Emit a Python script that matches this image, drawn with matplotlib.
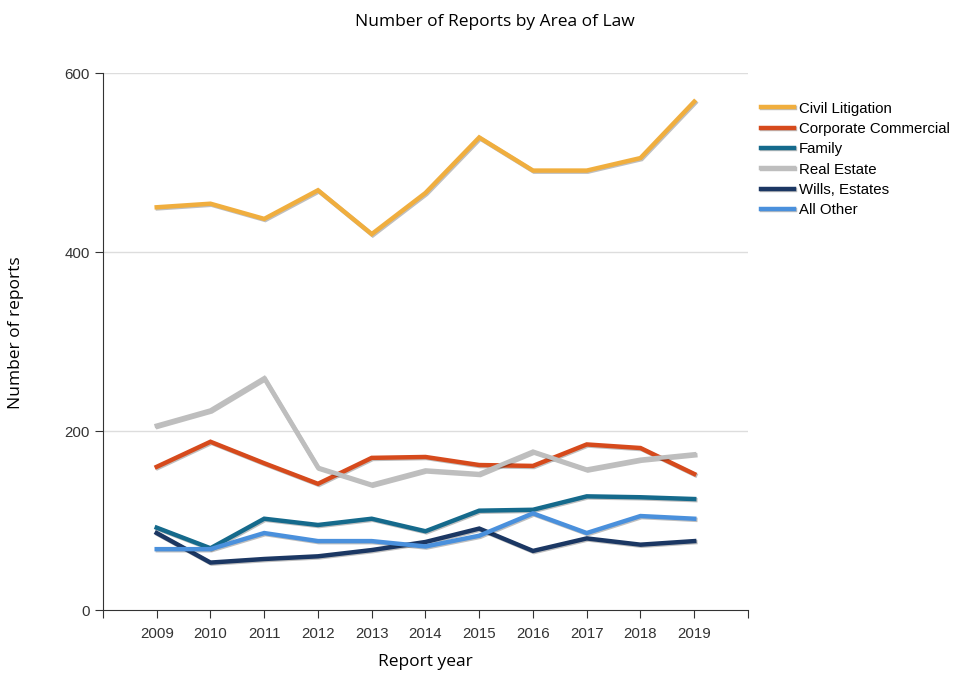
import matplotlib
matplotlib.use("Agg")
import matplotlib.pyplot as plt
import matplotlib.patheffects as pe

# Data
years = [2009, 2010, 2011, 2012, 2013, 2014, 2015, 2016, 2017, 2018, 2019]
civil_litigation = [450, 454, 437, 469, 420, 466, 528, 491, 491, 505, 568]
corporate_commercial = [160, 188, 164, 141, 170, 171, 162, 161, 185, 181, 152]
family = [92, 69, 102, 95, 102, 88, 111, 112, 127, 126, 124]
real_estate = [206, 223, 259, 159, 140, 156, 152, 177, 157, 168, 174]
wills_estates = [86, 53, 57, 60, 67, 76, 91, 66, 80, 73, 77]
all_other = [68, 68, 86, 77, 77, 71, 83, 108, 86, 105, 102]

series_names = ["Civil Litigation", "Corporate Commercial", "Family",
                "Real Estate", "Wills, Estates", "All Other"]
series_values = [civil_litigation, corporate_commercial, family,
                 real_estate, wills_estates, all_other]
series_colors = ["#F0AE3E", "#D64A1C", "#156A8C", "#BEBEBE", "#1B3763", "#4A90DC"]

y_ticks = [0, 200, 400, 600]

fig = plt.figure(figsize=(9.56, 6.73), dpi=100)
ax = fig.add_axes([0.1077, 0.0936, 0.6747, 0.7979])

# slight drop shadow like the original rendering
shadow = [pe.SimpleLineShadow(offset=(0.8, -0.8), alpha=0.25), pe.Normal()]
handles = []
for name, vals, color in zip(series_names, series_values, series_colors):
    (line,) = ax.plot(years, vals, color=color, lw=3.2, label=name,
                      solid_joinstyle="miter", path_effects=shadow, zorder=3)
    handles.append(line)

ax.set_xlim(2008, 2020)
ax.set_ylim(0, 600)
ax.set_xticks(list(range(2008, 2021)))
ax.set_xticklabels([""] + [str(y) for y in years] + [""])
ax.set_yticks(y_ticks)
ax.tick_params(labelsize=10.8, length=6, width=0.8, color="#333333")
for lab in ax.get_xticklabels() + ax.get_yticklabels():
    lab.set_fontfamily("Liberation Sans")
    lab.set_color("#333333")
ax.tick_params(axis="x", pad=6)

for y in y_ticks[1:]:
    ax.axhline(y, color="#DDDDDD", lw=1, zorder=1)

ax.spines["top"].set_visible(False)
ax.spines["right"].set_visible(False)
ax.spines["left"].set_color("#333333")
ax.spines["bottom"].set_color("#333333")

fig.text(0.445, 0.016, "Report year", fontsize=12.5, family="Open Sans",
         ha="center", va="center")
fig.text(0.017, 0.505, "Number of reports", rotation=90, fontsize=12.5,
         family="Open Sans", ha="center", va="center")
fig.text(0.518, 0.968, "Number of Reports by Area of Law", fontsize=12.5,
         family="Open Sans", ha="center", va="center")

fig.legend(handles=handles, labels=series_names, loc="upper left",
           bbox_to_anchor=(0.796, 0.849), frameon=False,
           prop={"family": "Liberation Sans", "size": 10.8},
           handlelength=2.2, handletextpad=0.35, labelspacing=0.42,
           borderaxespad=0, borderpad=0)

fig.savefig("out.png", dpi=100)
